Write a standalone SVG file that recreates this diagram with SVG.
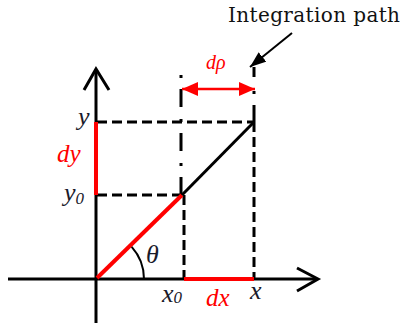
<svg xmlns="http://www.w3.org/2000/svg" width="401" height="332" viewBox="0 0 401 332">
<style>
  .ax{stroke:#000;stroke-width:3;fill:none;stroke-linecap:butt}
  .chev{stroke:#000;stroke-width:3;fill:none;stroke-linejoin:miter}
  .dash{stroke:#000;stroke-width:3;fill:none;stroke-dasharray:10 5}
  .dd{stroke:#000;stroke-width:3;fill:none}
  .red{stroke:#ff0000;stroke-width:4;fill:none}
  .lbl{font-family:"Liberation Serif","DejaVu Serif",serif;font-style:italic;font-size:26px;fill:#1a1a2a}
  .rl{font-family:"Liberation Serif","DejaVu Serif",serif;font-style:italic;font-size:25px;fill:#ff0000}
  .sub{font-size:17px}
  .title{font-family:"DejaVu Serif","Liberation Serif",serif;font-size:20px;fill:#111}
</style>
<defs>
  <marker id="rh" viewBox="0 0 16 14" refX="16" refY="7" markerWidth="16" markerHeight="14" markerUnits="userSpaceOnUse" orient="auto-start-reverse">
    <path d="M0,0 L16,7 L0,14 Z" fill="#ff0000"/>
  </marker>
  <marker id="bh" viewBox="0 0 16 12" refX="16" refY="6" markerWidth="16" markerHeight="12" markerUnits="userSpaceOnUse" orient="auto">
    <path d="M0,0 L16,6 L0,12 Z" fill="#000"/>
  </marker>
</defs>

<g id="connectors">
  <line class="dash" x1="97" y1="122" x2="254" y2="122"/>
  <line class="dash" x1="97" y1="195" x2="182" y2="195"/>
  <line class="dash" x1="184" y1="195" x2="184" y2="279"/>
  <line class="dash" x1="254" y1="122" x2="254" y2="279"/>
  <line class="dd" x1="181" y1="75" x2="181" y2="195" stroke-dasharray="3 11 18 12"/>
  <line class="dd" x1="254" y1="67" x2="254" y2="122" stroke-dasharray="10 14 3 11 18"/>
  <line class="ax" x1="96" y1="70" x2="96" y2="323"/>
  <polyline class="chev" points="84,90 96,69 109,90"/>
  <line class="ax" x1="8" y1="279" x2="317" y2="279"/>
  <polyline class="chev" points="297,268 318,279 297,291"/>
  <line class="red" x1="96" y1="122" x2="96" y2="195" stroke-width="3.5"/>
  <line class="red" x1="184" y1="279" x2="254" y2="279" stroke-width="3.5"/>
  <line class="red" x1="97" y1="278" x2="182" y2="195"/>
  <line class="ax" x1="182" y1="195" x2="254" y2="122"/>
  <path d="M144,279 A48,48 0 0 0 131.7,246.9" stroke="#000" stroke-width="2" fill="none"/>
  <line x1="182" y1="89" x2="255" y2="89" stroke="#ff0000" stroke-width="2.5" marker-start="url(#rh)" marker-end="url(#rh)"/>
  <line x1="292" y1="33" x2="250" y2="67" stroke="#000" stroke-width="2" marker-end="url(#bh)"/>
</g>

<g id="title"><text class="title" x="228" y="22" textLength="172">Integration path</text></g>
<g id="label-drho"><text class="rl" x="206" y="69" style="font-size:20px">dρ</text></g>
<g id="label-y"><text class="lbl" x="78" y="125">y</text></g>
<g id="label-dy"><text class="rl" x="57" y="162">dy</text></g>
<g id="label-y0"><text class="lbl" x="64" y="201">y<tspan class="sub" dy="3">0</tspan></text></g>
<g id="label-theta"><text class="lbl" x="146" y="263">θ</text></g>
<g id="label-x0"><text class="lbl" x="162" y="302">x<tspan class="sub" dy="1">0</tspan></text></g>
<g id="label-dx"><text class="rl" x="206" y="306">dx</text></g>
<g id="label-x"><text class="lbl" x="250" y="299">x</text></g>
</svg>
